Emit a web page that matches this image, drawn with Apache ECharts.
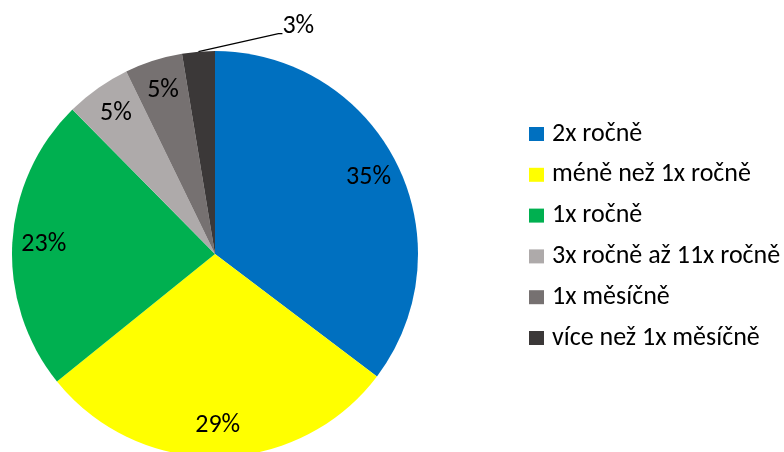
<!DOCTYPE html>
<html><head><meta charset="utf-8">
<script src="https://cdn.jsdelivr.net/npm/echarts@6/dist/echarts.min.js"></script>
<style>html,body{margin:0;padding:0;background:#fff}#c{width:784px;height:452px}</style>
</head><body><div id="c"></div>
<script>
const categories = ["2x ročně", "méně než 1x ročně", "1x ročně", "3x ročně až 11x ročně", "1x měsíčně", "více než 1x měsíčně"];
const values = [35.3, 28.9, 23.4, 5.2, 4.6, 2.6];
const colors = ["#0070C0", "#FFFF00", "#00B050", "#AEAAAA", "#767171", "#3B3838"];
const FONT = "Carlito, Lato, sans-serif";

const chart = echarts.init(document.getElementById('c'), null, {renderer: 'canvas'});
const fmt = p => Math.round(p.percent) + '%';
const baseData = categories.map((n, i) => ({
  name: n, value: values[i], itemStyle: {color: colors[i]},
  label: {show: i === 5},
  labelLine: {show: i === 5}
}));
const overlayData = categories.map((n, i) => ({
  name: n, value: values[i], itemStyle: {color: 'rgba(0,0,0,0)'},
  label: {show: i !== 5}
}));
chart.setOption({
  animation: false,
  legend: {
    orient: 'vertical', left: 529, top: 121, padding: 0,
    itemWidth: 15, itemHeight: 14, itemGap: 14.8,
    icon: 'rect',
    data: categories,
    textStyle: {fontFamily: FONT, fontSize: 26, color: '#000', lineHeight: 26, padding: [0, 0, 0, 3]}
  },
  series: [
    {
      type: 'pie', center: [215, 254], radius: [0, 203], startAngle: 90, clockwise: true,
      silent: true,
      data: baseData,
      label: {position: 'outside', formatter: fmt, fontFamily: FONT, fontSize: 26, color: '#000'},
      labelLine: {length: 10, length2: 5, lineStyle: {color: '#000', width: 1.3}},
      labelLayout: function (p) {
        if (p.dataIndex !== 5 || !p.labelLinePoints) return {};
        const p0 = p.labelLinePoints[0];
        const lx = p0[0] + 84, ly = p0[1] - 25;
        return {
          x: lx, y: ly, align: 'left', verticalAlign: 'middle',
          labelLinePoints: [p0, [lx - 4, ly + 7], [lx, ly + 7]]
        };
      }
    },
    {
      type: 'pie', center: [215, 254], radius: [134, 203], startAngle: 90, clockwise: true,
      silent: true,
      data: overlayData,
      label: {position: 'inside', formatter: fmt, fontFamily: FONT, fontSize: 26, color: '#000'},
      labelLine: {show: false}
    }
  ]
});
</script></body></html>
